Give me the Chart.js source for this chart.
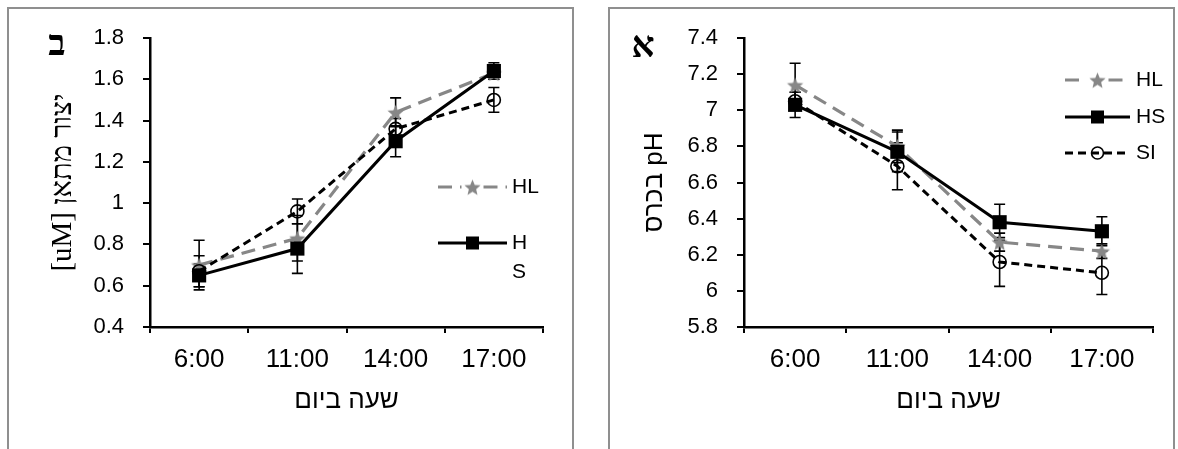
<!DOCTYPE html>
<html>
<head>
<meta charset="utf-8">
<script src="https://cdn.jsdelivr.net/npm/chart.js@4.4.1/dist/chart.umd.min.js"></script>
<style>
  html, body { margin: 0; padding: 0; background: #fff; width: 1178px; height: 449px; overflow: hidden; position: relative; }
  .frame { position: absolute; top: 7px; height: 470px; box-sizing: border-box; border: 2px solid #8f8f8f; border-bottom: none; }
  #frameB { left: 7px; width: 567px; }
  #frameA { left: 608px; width: 567px; }
  .panel { position: absolute; top: 0; height: 449px; }
  #wrapB { left: 0; width: 590px; }
  #wrapA { left: 590px; width: 588px; }
</style>
</head>
<body>
<div class="frame" id="frameB"></div>
<div class="frame" id="frameA"></div>
<div class="panel" id="wrapB"><canvas id="chartB" width="590" height="449"></canvas></div>
<div class="panel" id="wrapA"><canvas id="chartA" width="588" height="449"></canvas></div>
<script>
// Sampling times (category axis)
const times = ['6:00', '11:00', '14:00', '17:00'];

// Panel ב: methane production [uM]
const methaneHL = [0.70, 0.83, 1.44, 1.63];
const methaneHS = [0.65, 0.78, 1.30, 1.64];
const methaneSI = [0.67, 0.96, 1.36, 1.50];
const methaneErrHL = [0.12, 0.11, 0.07, 0.03];
const methaneErrHS = [0.055, 0.12, 0.075, 0.04];
const methaneErrSI = [0.075, 0.06, 0.05, 0.06];
const methaneTicks = { min: 0.4, max: 1.8, step: 0.2 };

// Panel א: rumen pH
const phHL = [7.14, 6.80, 6.27, 6.22];
const phHS = [7.03, 6.77, 6.38, 6.33];
const phSI = [7.05, 6.69, 6.16, 6.10];
const phErrHL = [0.12, 0.09, 0.05, 0.04];
const phErrHS = [0.07, 0.11, 0.10, 0.08];
const phErrSI = [0.05, 0.13, 0.135, 0.12];
const phTicks = { min: 5.8, max: 7.4, step: 0.2 };

Chart.defaults.color = '#000';

const GRAY = '#878787';

// Filled five-point star used as the HL marker
function starMarker(color, outer, inner) {
  const s = Math.ceil(outer * 2) + 2;
  const c = document.createElement('canvas');
  c.width = c.height = s;
  const g = c.getContext('2d');
  g.fillStyle = color;
  g.beginPath();
  for (let k = 0; k < 10; k++) {
    const r = k % 2 ? inner : outer;
    const a = -Math.PI / 2 + k * Math.PI / 5;
    g.lineTo(s / 2 + r * Math.cos(a), s / 2 + 1 + r * Math.sin(a));
  }
  g.closePath();
  g.fill();
  return c;
}
const star = starMarker(GRAY, 8.5, 3.8);

function buildSeries(hl, hs, si, eHL, eHS, eSI) {
  return [
    { label: 'HL', data: hl, errors: eHL, borderColor: GRAY, borderWidth: 3.2, borderDash: [14, 8],
      pointStyle: star, pointRadius: 8, pointBackgroundColor: GRAY, pointBorderColor: GRAY, order: 3 },
    { label: 'HS', data: hs, errors: eHS, borderColor: '#000', borderWidth: 3,
      pointStyle: 'rect', pointRadius: 10, pointBackgroundColor: '#000', pointBorderColor: '#000', pointBorderWidth: 0, order: 1 },
    { label: 'SI', data: si, errors: eSI, borderColor: '#000', borderWidth: 3, borderDash: [8, 5],
      pointStyle: 'circle', pointRadius: 6.5, pointBackgroundColor: 'rgba(0,0,0,0)', pointBorderColor: '#000', pointBorderWidth: 1.6, order: 2 }
  ];
}

// Vertical error bars with caps, drawn under the markers
const errorBars = {
  id: 'errorBars',
  beforeDatasetsDraw(chart) {
    const { ctx } = chart;
    const y = chart.scales.y;
    ctx.save();
    ctx.strokeStyle = '#000';
    ctx.lineWidth = 1.6;
    chart.data.datasets.forEach((ds, i) => {
      if (!ds.errors) return;
      chart.getDatasetMeta(i).data.forEach((pt, j) => {
        const v = ds.data[j], e = ds.errors[j];
        const px = pt.x;
        const top = y.getPixelForValue(v + e), bot = y.getPixelForValue(v - e);
        ctx.beginPath();
        ctx.moveTo(px, top); ctx.lineTo(px, bot);
        ctx.moveTo(px - 5.5, top); ctx.lineTo(px + 5.5, top);
        ctx.moveTo(px - 5.5, bot); ctx.lineTo(px + 5.5, bot);
        ctx.stroke();
      });
    });
    ctx.restore();
  }
};

// Series key: line sample with marker, followed by the series name
const seriesKey = {
  id: 'seriesKey',
  afterDraw(chart, args, opts) {
    const ctx = chart.ctx;
    opts.items.forEach(item => {
      const ds = chart.data.datasets[item.index];
      const cx = (opts.x1 + opts.x2) / 2;
      ctx.save();
      ctx.strokeStyle = ds.borderColor;
      ctx.lineWidth = ds.borderWidth;
      ctx.setLineDash(ds.borderDash || []);
      ctx.beginPath();
      if (item.gap) {
        ctx.moveTo(opts.x1, item.y); ctx.lineTo(cx - item.gap, item.y);
        ctx.moveTo(cx + item.gap, item.y); ctx.lineTo(opts.x2, item.y);
      } else {
        ctx.moveTo(opts.x1, item.y); ctx.lineTo(opts.x2, item.y);
      }
      ctx.stroke();
      ctx.setLineDash([]);
      ctx.fillStyle = ds.pointBackgroundColor;
      ctx.strokeStyle = ds.pointBorderColor;
      ctx.lineWidth = ds.pointBorderWidth || 0;
      Chart.helpers.drawPoint(ctx, {
        pointStyle: ds.pointStyle, radius: ds.pointRadius * 0.92,
        borderWidth: ds.pointBorderWidth || 0, rotation: 0
      }, cx, item.y);
      ctx.fillStyle = '#000';
      ctx.font = opts.font;
      ctx.textAlign = 'left';
      ctx.textBaseline = 'middle';
      const lines = item.wrapAt ? [ds.label.slice(0, item.wrapAt), ds.label.slice(item.wrapAt)] : [ds.label];
      lines.forEach((t, k) => ctx.fillText(t, opts.textX, item.y + k * opts.lineGap));
      ctx.restore();
    });
  }
};

// Bold panel letter in the top-left corner of each panel
const panelLetter = {
  id: 'panelLetter',
  afterDraw(chart, args, opts) {
    const ctx = chart.ctx;
    ctx.save();
    ctx.font = 'bold 36px "Liberation Serif", "DejaVu Sans"';
    ctx.fillStyle = '#000';
    ctx.textAlign = 'center';
    ctx.textBaseline = 'middle';
    ctx.fillText(opts.text, opts.x, opts.y);
    ctx.restore();
  }
};

const tickText = v => String(Number(v.toFixed(2)));

function buildChart(canvasId, series, ticks, cfg) {
  return new Chart(document.getElementById(canvasId), {
    type: 'line',
    data: { labels: times, datasets: series },
    plugins: [errorBars, seriesKey, panelLetter],
    options: {
      responsive: false,
      animation: false,
      events: [],
      layout: { padding: { left: 0, top: 38, right: cfg.padRight, bottom: 0 } },
      elements: { line: { tension: 0, fill: false } },
      scales: {
        x: {
          type: 'category',
          offset: true,
          grid: { offset: true, drawOnChartArea: false, drawTicks: true, tickLength: 6, color: '#000', lineWidth: 2 },
          border: { color: '#000', width: 2.5 },
          ticks: { font: { family: 'Liberation Sans', size: 26 }, color: '#000', padding: 11, maxRotation: 0 },
          title: { display: true, text: 'שעה ביום', font: { family: 'Liberation Sans', size: 26 }, color: '#000', padding: { top: 0, bottom: 33 } },
          afterFit: s => { s.height = 122; }
        },
        y: {
          min: ticks.min, max: ticks.max,
          grid: { drawOnChartArea: false, drawTicks: true, tickLength: 7, color: '#000', lineWidth: 2 },
          border: { color: '#000', width: 2.5 },
          ticks: { stepSize: ticks.step, font: { family: 'Liberation Sans', size: 22 }, color: '#000', padding: 19, callback: tickText },
          title: { display: true, text: cfg.yTitle, font: cfg.yTitleFont, color: '#000', padding: { top: cfg.yTitlePad, bottom: 0 } },
          afterFit: s => { s.width = cfg.yWidth; }
        }
      },
      plugins: {
        legend: { display: false },
        tooltip: { enabled: false },
        seriesKey: cfg.key,
        panelLetter: cfg.letter
      }
    }
  });
}

buildChart('chartB',
  buildSeries(methaneHL, methaneHS, methaneSI, methaneErrHL, methaneErrHS, methaneErrSI),
  methaneTicks,
  {
    padRight: 47, yWidth: 150,
    yTitle: '[uM] יצור מתאן',
    yTitleFont: { family: '"Liberation Serif", "DejaVu Serif"', size: 29 }, yTitlePad: 46,
    key: { x1: 438, x2: 507, textX: 512, font: '21px "Liberation Sans"', lineGap: 29,
           items: [{ index: 0, y: 187, gap: 11 }, { index: 1, y: 243, wrapAt: 1 }] },
    letter: { text: 'ב', x: 57, y: 46 }
  });

buildChart('chartA',
  buildSeries(phHL, phHS, phSI, phErrHL, phErrHS, phErrSI),
  phTicks,
  {
    padRight: 25, yWidth: 154,
    yTitle: 'בכרס pH',
    yTitleFont: { family: 'Liberation Sans', size: 26 }, yTitlePad: 49,
    key: { x1: 475, x2: 540, textX: 546, font: '21px "Liberation Sans"', lineGap: 29,
           items: [{ index: 0, y: 80, gap: 11 }, { index: 1, y: 117 }, { index: 2, y: 153 }] },
    letter: { text: 'א', x: 53, y: 48 }
  });
</script>
</body>
</html>
